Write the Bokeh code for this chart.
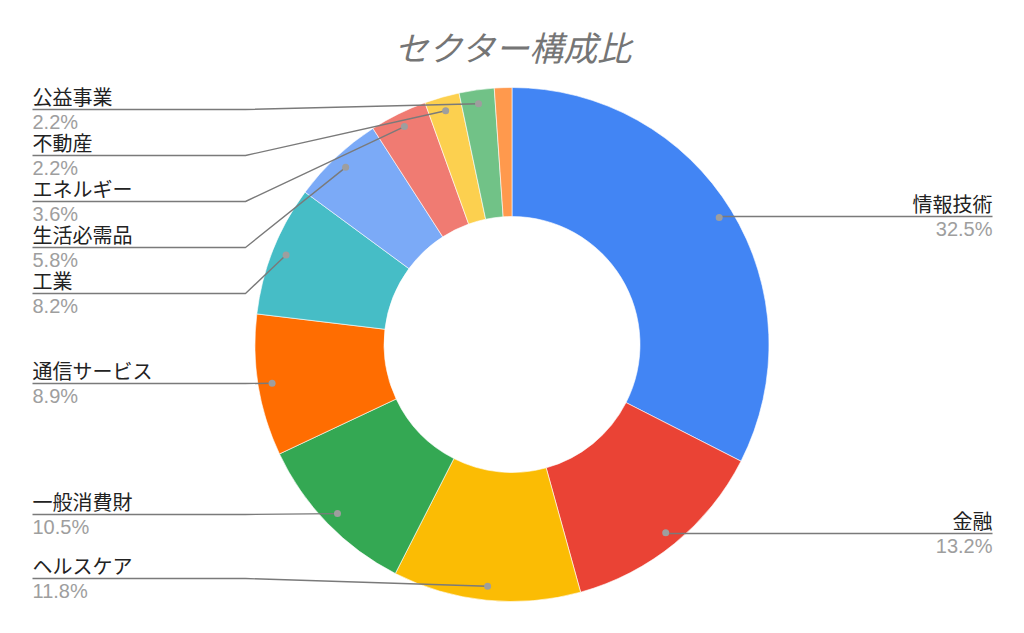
import math
from bokeh.plotting import figure
from bokeh.models import Range1d, ColumnDataSource
from bokeh.core.properties import value
from bokeh.embed import file_html
from bokeh.resources import INLINE

# ---- data ----
title_text = "セクター構成比"
sectors = ["情報技術", "金融", "ヘルスケア", "一般消費財", "通信サービス", "工業",
           "生活必需品", "エネルギー", "不動産", "公益事業", "素材"]
shares = [32.5, 13.2, 11.8, 10.5, 8.9, 8.2, 5.8, 3.6, 2.2, 2.2, 1.1]
show_label = [True, True, True, True, True, True, True, True, True, True, False]

# ---- styles / layout ----
colors = ["#4285F4", "#EA4335", "#FBBC04", "#34A853", "#FF6D01", "#46BDC6",
          "#7BAAF7", "#F07B72", "#FCD04F", "#71C287", "#FF994D"]
label_side = ["right", "right", "left", "left", "left", "left", "left", "left", "left", "left", None]
label_line_py = [216, 533, 578, 514, 383, 293, 247, 201, 155, 109, None]

W, H = 1008, 617
CX, CY_PAGE = 511.5, 344.0
R_OUT, R_IN, R_DOT = 257.0, 128.0, 243.0
LEFT_X, ELBOW_X, RIGHT_X = 32.0, 245.0, 992.0
FONT = "Noto Sans CJK JP"


def Y(py):
    return 633.0 - py


p = figure(width=W, height=H, x_range=Range1d(0, W), y_range=Range1d(633 - H, 633),
           output_backend="svg", toolbar_location=None, min_border=0)
p.axis.visible = False
p.grid.visible = False
p.outline_line_color = None
p.background_fill_color = "white"
p.border_fill_color = "white"

total = sum(shares)
starts, ends, mids = [], [], []
acc = 0.0
for s in shares:
    a0 = acc / total
    acc += s
    a1 = acc / total
    starts.append(math.pi / 2 - 2 * math.pi * a0)
    ends.append(math.pi / 2 - 2 * math.pi * a1)
    mids.append((a0 + a1) / 2)

src = ColumnDataSource(dict(start=starts, end=ends, color=colors))
p.annular_wedge(x=CX, y=Y(CY_PAGE), inner_radius=R_IN, outer_radius=R_OUT,
                start_angle="start", end_angle="end", direction="clock",
                fill_color="color", line_color="white", line_width=0.6, source=src)

xs, ys, dx, dy = [], [], [], []
lab_x, lab_y, lab_t, lab_align = [], [], [], []
pct_x, pct_y, pct_t = [], [], []
for i, name in enumerate(sectors):
    if not show_label[i]:
        continue
    ang = 2 * math.pi * mids[i]
    px = CX + R_DOT * math.sin(ang)
    py = CY_PAGE - R_DOT * math.cos(ang)
    dx.append(px)
    dy.append(Y(py))
    ly = label_line_py[i]
    if label_side[i] == "left":
        xs.append([LEFT_X, ELBOW_X, px])
        ys.append([Y(ly), Y(ly), Y(py)])
        tx, al = LEFT_X, "left"
    else:
        xs.append([px, RIGHT_X])
        ys.append([Y(ly), Y(ly)])
        tx, al = RIGHT_X, "right"
    lab_x.append(tx); lab_y.append(Y(ly - 13)); lab_t.append(name); lab_align.append(al)
    pct_x.append(tx); pct_y.append(Y(ly + 12)); pct_t.append(f"{shares[i]:.1f}%")

p.multi_line(xs, ys, line_color="#7a7a7a", line_width=1.4)
p.scatter(dx, dy, size=7, fill_color="#9e9e9e", line_color=None)

p.text(x=lab_x, y=lab_y, text=lab_t, text_align=lab_align, text_baseline="middle",
       text_font=value(FONT), text_font_size="20px", text_color="#222222")
p.text(x=pct_x, y=pct_y, text=pct_t, text_align=lab_align, text_baseline="middle",
       text_font=value("Liberation Sans"), text_font_size="20px", text_color="#9e9e9e")

p.text(x=[513], y=[Y(46)], text=[title_text], text_align="center", text_baseline="middle",
       text_font=value(FONT), text_font_style="italic", text_font_size="34px",
       text_color="#757575")

open("out.html", "w").write(file_html(p, INLINE))
